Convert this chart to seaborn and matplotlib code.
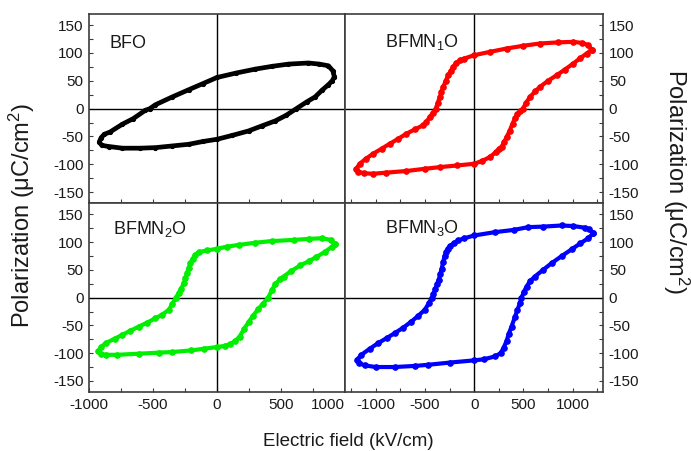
import matplotlib
matplotlib.use("Agg")
import matplotlib.pyplot as plt
import seaborn as sns
import pandas as pd
from matplotlib.ticker import MultipleLocator, FixedLocator

# ---------------- data ----------------
labels = ["BFO", "BFMN$_1$O", "BFMN$_2$O", "BFMN$_3$O"]
colors = ["#000000", "#ff0000", "#00ee00", "#0000ff"]

bfo_E = [917, 905, 870, 800, 714, 558, 430, 299, 150, 0, -110, -221, -350, -481, -525,
         -560, -655, -740, -836, -880, -905, -920,
         -900, -844, -740, -600, -481, -350, -221, -110, 0, 120, 247, 350, 455, 540, 620,
         700, 766, 820, 870, 900, 917]
bfo_P = [57, 68, 77, 80, 82, 80, 76, 71, 64, 56, 45, 34, 21, 7, 0,
         -3, -18, -28, -42, -46, -52, -60,
         -66, -68, -71, -71, -70, -67, -64, -59, -55, -48, -40, -31, -22, -12, 0,
         12, 21, 33, 43, 50, 57]

n1_E = [1194, 1160, 1100, 1007, 850, 668, 500, 330, 160, 0, -100, -145, -180, -213, -240,
        -264, -290, -315, -332, -349, -370, -390, -420, -452, -485, -519, -600, -688,
        -770, -857, -940, -1027, -1100, -1163, -1197,
        -1180, -1120, -1027, -900, -688, -500, -349, -170, 0, 80, 160, 220, 255, 280, 305,
        330, 360, 390, 415, 440, 470, 495, 530, 567, 620, 668, 750, 838, 920, 1007, 1080,
        1143, 1194]
n1_P = [106, 114, 118, 120, 119, 117, 113, 108, 102, 96, 90, 87, 82, 75, 67,
        60, 49, 39, 30, 21, 10, 0, -8, -15, -24, -30, -37, -45,
        -54, -63, -72, -81, -90, -99, -108,
        -113, -116, -117, -115, -112, -108, -105, -102, -99, -94, -87, -78, -72, -68, -60,
        -51, -40, -27, -17, -10, -4, 0, 11, 21, 31, 39, 50, 60, 70, 81, 91,
        99, 106]

n2_E = [920, 890, 820, 722, 600, 430, 300, 169, 80, 0, -80, -143, -170, -190, -208, -222,
        -234, -247, -260, -280, -300, -322, -350, -377, -430, -481, -545, -610, -680,
        -740, -800, -870, -905, -927,
        -910, -870, -780, -610, -450, -351, -200, -100, 0, 60, 100, 143, 177, 210, 247,
        281, 320, 359, 400, 430, 455, 490, 520, 580, 650, 720, 775, 840, 900, 920]
n2_P = [96, 104, 107, 106, 104, 102, 99, 95, 92, 88, 85, 82, 77, 70, 62, 53,
        44, 35, 26, 16, 8, 0, -12, -22, -31, -37, -45, -52, -60,
        -67, -74, -82, -89, -97,
        -101, -103, -103, -101, -99, -98, -95, -92, -89, -87, -84, -78, -70, -57, -44,
        -33, -21, -11, 0, 14, 24, 33, 38, 48, 58, 66, 73, 82, 92, 96]

n3_E = [1210, 1170, 1125, 1007, 888, 700, 549, 400, 210, 0, -100, -163, -200, -247, -270,
        -285, -300, -315, -330, -345, -360, -378, -395, -413, -430, -460, -502, -570,
        -637, -720, -807, -890, -976, -1060, -1146, -1190,
        -1170, -1112, -1000, -807, -600, -468, -250, 0, 100, 210, 270, 300, 330, 350, 380,
        414, 440, 465, 481, 505, 532, 570, 617, 700, 786, 890, 990, 1080, 1159, 1210]
n3_P = [116, 123, 126, 129, 130, 128, 127, 122, 118, 112, 107, 103, 99, 93, 88,
        82, 75, 64, 52, 42, 32, 24, 15, 7, 0, -10, -22, -33,
        -43, -54, -64, -73, -82, -92, -103, -112,
        -118, -122, -125, -125, -123, -121, -117, -113, -111, -106, -100, -90, -78, -66, -52,
        -35, -22, -10, 0, 10, 20, 30, 38, 50, 62, 75, 87, 98, 107, 116]

x_ticks = [-1000, -500, 0, 500, 1000]
y_ticks = [-150, -100, -50, 0, 50, 100, 150]

# ---------------- style ----------------
sns.set_theme(style="white")
plt.rcParams["font.family"] = ["Liberation Sans", "DejaVu Sans"]
plt.rcParams["mathtext.default"] = "regular"
plt.rcParams["axes.unicode_minus"] = False

W, H = 691, 451
fig = plt.figure(figsize=(W / 100, H / 100), dpi=100)

def fx(px):
    return px / W

def fy(py):
    return 1 - py / H

xl, xm, xr = 89, 345, 603.3
yt, ym, yb = 14, 203.3, 392
rects = [
    (xl, ym, xm - xl, ym - yt),
    (xm, ym, xr - xm, ym - yt),
    (xl, yb, xm - xl, yb - ym),
    (xm, yb, xr - xm, yb - ym),
]
axes = [fig.add_axes([fx(x), fy(y), w / W, h / H]) for (x, y, w, h) in rects]

datasets = [(bfo_E, bfo_P), (n1_E, n1_P), (n2_E, n2_P), (n3_E, n3_P)]
xlims = [(-1000, 1000), (-1312, 1312), (-1000, 1000), (-1312, 1312)]
label_pos = [(0.082, 0.820), (0.155, 0.827), (0.094, 0.837), (0.155, 0.841)]
spine_c = "#3c3c3c"

for i, ax in enumerate(axes):
    E, P = datasets[i]
    df = pd.DataFrame({"E": E, "P": P})
    ax.axhline(0, color="black", lw=1.0, zorder=1)
    ax.axvline(0, color="black", lw=1.0, zorder=1)
    if i == 0:
        sns.lineplot(data=df, x="E", y="P", sort=False, estimator=None, ax=ax,
                     color=colors[i], lw=3.4, marker="o", ms=3.0, mec=colors[i], zorder=3)
    else:
        sns.lineplot(data=df, x="E", y="P", sort=False, estimator=None, ax=ax,
                     color=colors[i], lw=3.0, marker="o", ms=4.0, mec=colors[i],
                     mfc=colors[i], zorder=3)
    ax.set_xlim(*xlims[i])
    ax.set_ylim(-170, 170)
    ax.set_xlabel("")
    ax.set_ylabel("")
    ax.set_facecolor("white")
    for s in ax.spines.values():
        s.set_color(spine_c)
        s.set_linewidth(1.2)
        s.set_visible(True)
    ax.xaxis.set_major_locator(FixedLocator(x_ticks))
    ax.xaxis.set_minor_locator(MultipleLocator(250))
    ax.yaxis.set_major_locator(FixedLocator(y_ticks))
    ax.yaxis.set_minor_locator(MultipleLocator(25))
    ax.tick_params(which="both", direction="in", length=3, width=0.8, color=spine_c,
                   labelsize=11, labelcolor="#1a1a1a", pad=4)
    ax.tick_params(axis="x", which="both", bottom=True, top=False)
    if i in (1, 3):
        ax.yaxis.tick_right()
        ax.tick_params(axis="y", which="both", left=False, right=True, direction="in",
                       length=3, width=0.8, color=spine_c)
    else:
        ax.tick_params(axis="y", which="both", left=True, right=False)
    if i in (0, 1):
        ax.tick_params(axis="x", labelbottom=False)
    else:
        ax.set_xticklabels([str(t) for t in x_ticks])
    ax.set_yticklabels([str(t) for t in y_ticks])
    lx, ly = label_pos[i]
    ax.text(lx, ly, labels[i], transform=ax.transAxes, fontsize=13, va="baseline",
            ha="left", color="#1a1a1a")

# the last label of the lower-left panel sits against the shared spine
axes[2].xaxis.get_major_ticks()[-1].label1.set_horizontalalignment("right")
axes[2].xaxis.get_major_ticks()[-1].label1.set_x(1000)

fig.text(fx(348), fy(441), "Electric field (kV/cm)", ha="center", va="center",
         fontsize=13.5, color="#1a1a1a")
fig.text(fx(22), fy(215), "Polarization (\u03bcC/cm$^2$)", ha="center", va="center",
         rotation=90, fontsize=17, color="#1a1a1a")
fig.text(fx(676), fy(182), "Polarization (\u03bcC/cm$^2$)", ha="center", va="center",
         rotation=270, fontsize=17, color="#1a1a1a")

fig.savefig("out.png", dpi=100, facecolor="white")
